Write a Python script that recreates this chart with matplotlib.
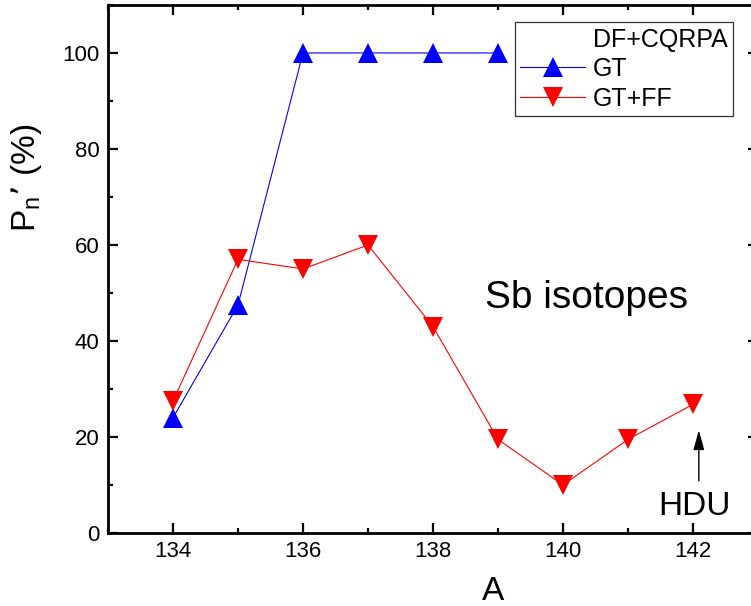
import matplotlib
matplotlib.use('Agg')
import matplotlib.pyplot as plt
from matplotlib.lines import Line2D
from matplotlib.ticker import MultipleLocator

plt.rcParams['font.family'] = ['Liberation Sans', 'DejaVu Sans']
plt.rcParams['mathtext.default'] = 'regular'

# mass numbers and P_n values (%)
a_gt = [134, 135, 136, 137, 138, 139]
pn_gt = [24.0, 47.5, 100, 100, 100, 100]

a_gtff = [134, 135, 136, 137, 138, 139, 140, 141, 142]
pn_gtff = [27.5, 57.0, 55.0, 60.0, 43.0, 19.5, 10.0, 19.5, 26.8]

x_ticks = [134, 136, 138, 140, 142]
y_ticks = [0, 20, 40, 60, 80, 100]

fig = plt.figure(figsize=(7.51, 6.06), dpi=100)
ax = fig.add_axes([0.1438, 0.1205, 0.8655, 0.8713])

ax.plot(a_gt, pn_gt, color='#0000ff', lw=0.8, marker='^', ms=14,
        markeredgewidth=0, label='GT')
ax.plot(a_gtff, pn_gtff, color='#ff0000', lw=0.8, marker='v', ms=14,
        markeredgewidth=0, label='GT+FF')

ax.set_xlim(133, 143)
ax.set_ylim(0, 110)
ax.set_xticks(x_ticks)
ax.set_yticks(y_ticks)
ax.xaxis.set_minor_locator(MultipleLocator(1))
ax.yaxis.set_minor_locator(MultipleLocator(10))
ax.tick_params(which='both', direction='in', top=True, right=True, width=1.6)
ax.tick_params(which='major', length=7.5, labelsize=16, pad=6)
ax.tick_params(which='minor', length=3.8)
for sp in ax.spines.values():
    sp.set_linewidth(2.0)

# legend with a title row aligned to the labels
blank = Line2D([], [], linestyle='none')
h, l = ax.get_legend_handles_labels()
leg = ax.legend([blank] + h, ['DF+CQRPA'] + l, loc='upper right',
                bbox_to_anchor=(733 / 751, 1 - 22 / 606),
                bbox_transform=fig.transFigure, fontsize=18,
                frameon=True, fancybox=False, framealpha=1,
                borderpad=0.22, borderaxespad=0, handlelength=2.6,
                handletextpad=0.3, labelspacing=0.22)
leg.get_frame().set_edgecolor('#333333')
leg.get_frame().set_linewidth(0.9)

ax.text(138.8, 46.9, 'Sb isotopes', fontsize=28, ha='left', va='baseline')
ax.text(142.03, 3.7, 'HDU', fontsize=24, ha='center', va='baseline')
ax.annotate('', xy=(142.09, 22.0), xytext=(142.09, 10.3),
            arrowprops=dict(arrowstyle='-|>,head_length=0.8,head_width=0.22',
                            color='black', lw=1, mutation_scale=15))

fig.text(493 / 751, 6 / 606, 'A', fontsize=24, ha='center', va='baseline')
fig.text(27 / 751, 1 - 232 / 606, 'P$_n$’ (%)', fontsize=24, rotation=90,
         ha='center', va='bottom')

fig.savefig('out.png', dpi=100)
